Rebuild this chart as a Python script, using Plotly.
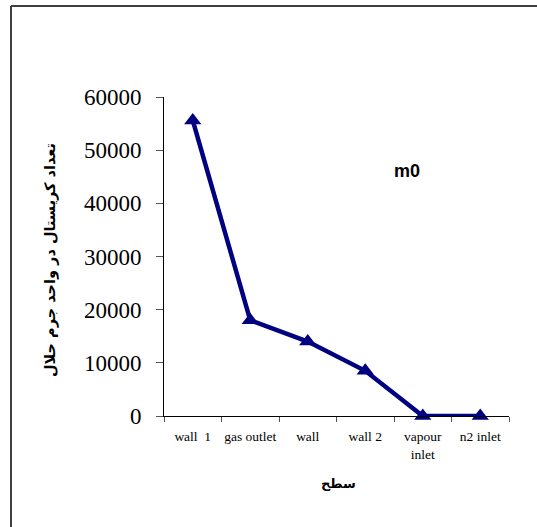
import plotly.graph_objects as go

categories = ["wall  1", "gas outlet", "wall", "wall 2", "vapour<br>inlet", "n2 inlet"]
m0_values = [55600, 18000, 14000, 8500, 0, 0]
y_ticks = [0, 10000, 20000, 30000, 40000, 50000, 60000]
y_tick_text = ["0", "10000", "20000", "30000", "40000", "50000", "60000"]

W, H = 537, 527
L, R, T, B = 164, 509, 97, 416
pw, ph = R - L, B - T

fig = go.Figure()
fig.add_trace(go.Scatter(
    x=categories, y=m0_values, mode="lines+markers",
    line=dict(color="#000080", width=4.5),
    marker=dict(symbol="triangle-up", size=15, color="#000080"),
    showlegend=False, cliponaxis=False,
))

fig.update_layout(
    width=W, height=H,
    margin=dict(l=L, r=W - R, t=T, b=H - B),
    paper_bgcolor="white", plot_bgcolor="white",
    xaxis=dict(
        type="category", range=[-0.5, 5.5],
        showline=True, linecolor="black", linewidth=1,
        ticks="outside", ticklen=5, tickcolor="#555555",
        tickson="boundaries", showgrid=False, zeroline=False,
        tickangle=0, ticklabelstandoff=8,
        tickfont=dict(family="Liberation Serif", size=13.5, color="black"),
    ),
    yaxis=dict(
        range=[0, 60000], tickvals=y_ticks, ticktext=y_tick_text,
        showline=True, linecolor="black", linewidth=1,
        ticks="outside", ticklen=7, tickcolor="#555555",
        showgrid=False, zeroline=False, ticklabelstandoff=10,
        tickfont=dict(family="Liberation Serif", size=23, color="black"),
    ),
    shapes=[
        dict(type="line", xref="paper", yref="paper",
             x0=(11 - L) / pw, x1=(W + 5 - L) / pw, y0=(B - 6) / ph, y1=(B - 6) / ph,
             line=dict(color="#404040", width=2)),
        dict(type="line", xref="paper", yref="paper",
             x0=(11 - L) / pw, x1=(11 - L) / pw, y0=(B - 6) / ph, y1=(B - H - 5) / ph,
             line=dict(color="#404040", width=2)),
    ],
    annotations=[
        dict(text="<b>m0</b>", xref="paper", yref="paper",
             x=(407 - L) / pw, y=(B - 171) / ph, xanchor="center", yanchor="middle",
             showarrow=False,
             font=dict(family="Liberation Sans", size=18, color="black")),
        dict(text="<b>تعداد کریستال در واحد جرم حلال</b>", xref="paper", yref="paper",
             x=(50 - L) / pw, y=(B - 260) / ph, xanchor="center", yanchor="middle",
             textangle=-90, showarrow=False,
             font=dict(family="DejaVu Sans", size=14.5, color="black")),
        dict(text="<b>سطح</b>", xref="paper", yref="paper",
             x=(338 - L) / pw, y=(B - 483) / ph, xanchor="center", yanchor="middle",
             showarrow=False,
             font=dict(family="DejaVu Sans", size=13, color="black")),
    ],
)

fig.write_html("out.html")
